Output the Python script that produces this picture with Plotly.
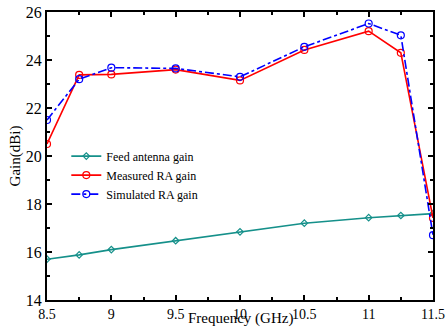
import plotly.graph_objects as go

freq = [8.5, 8.75, 9, 9.5, 10, 10.5, 11, 11.25, 11.5]
feed_gain = [15.7, 15.88, 16.1, 16.47, 16.84, 17.2, 17.43, 17.52, 17.6]
measured_gain = [20.5, 23.38, 23.4, 23.6, 23.15, 24.42, 25.2, 24.3, 17.42]
simulated_gain = [21.5, 23.2, 23.68, 23.65, 23.3, 24.55, 25.52, 25.03, 16.7]

font_family = "Liberation Serif, Times New Roman, serif"

fig = go.Figure()
fig.add_trace(go.Scatter(
    x=freq, y=feed_gain, name="Feed antenna gain", mode="lines+markers",
    line=dict(color="#15908a", width=1.6),
    marker=dict(symbol="diamond-open", size=5, color="#15908a", line=dict(width=1.2))))
fig.add_trace(go.Scatter(
    x=freq, y=measured_gain, name="Measured RA gain", mode="lines+markers",
    line=dict(color="#ff0000", width=1.6),
    marker=dict(symbol="circle-open", size=7, color="#ff0000", line=dict(width=1.2))))
fig.add_trace(go.Scatter(
    x=freq, y=simulated_gain, name="Simulated RA gain", mode="lines+markers",
    line=dict(color="#0000ff", width=1.6, dash="dashdot"),
    marker=dict(symbol="circle-open", size=7, color="#0000ff", line=dict(width=1.2))))

fig.update_layout(
    width=446, height=330,
    margin=dict(l=47, r=13, t=12, b=30, autoexpand=False),
    paper_bgcolor="white", plot_bgcolor="white",
    font=dict(family=font_family, color="black", size=14),
    showlegend=True,
    legend=dict(x=0.05, y=0.55, xanchor="left", yanchor="top",
                bgcolor="rgba(0,0,0,0)", font=dict(size=12, family=font_family),
                tracegroupgap=0),
    annotations=[dict(text="Frequency (GHz)", xref="paper", yref="paper",
                      x=0.5, y=-0.1, xanchor="center", yanchor="bottom",
                      showarrow=False, font=dict(size=15, family=font_family))],
)
fig.update_xaxes(
    range=[8.5, 11.5], tickvals=[8.5, 9, 9.5, 10, 10.5, 11, 11.5],
    ticktext=["8.5", "9", "9.5", "10", "10.5", "11", "11.5"],
    ticks="inside", ticklen=5, tickwidth=2, tickcolor="black",
    minor=dict(ticks="inside", ticklen=3, tickwidth=1.5, dtick=0.25, tick0=8.5, tickcolor="black"),
    showline=True, linewidth=2, linecolor="black", mirror="ticks",
    showgrid=False, zeroline=False, automargin=False,
    ticklabeloverflow="allow",
    tickfont=dict(size=14),
)
fig.update_yaxes(
    range=[14, 26], dtick=2, tick0=14,
    ticks="inside", ticklen=5, tickwidth=2, tickcolor="black",
    minor=dict(ticks="inside", ticklen=3, tickwidth=1.5, dtick=1, tickcolor="black"),
    showline=True, linewidth=2, linecolor="black", mirror="ticks",
    showgrid=False, zeroline=False, automargin=False,
    ticklabeloverflow="allow",
    tickfont=dict(size=16),
    title=dict(text="Gain(dBi)", font=dict(size=15), standoff=2),
)

fig.write_html("out.html")
